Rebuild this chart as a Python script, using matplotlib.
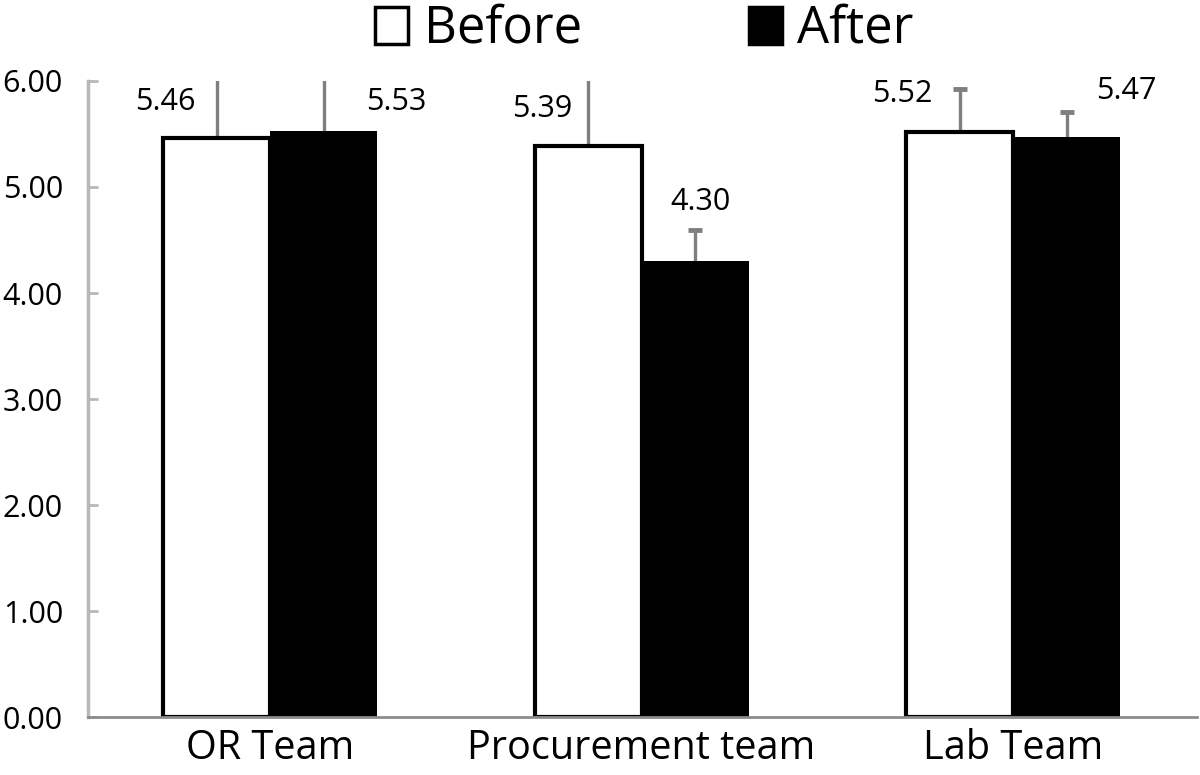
import numpy as np
import matplotlib.pyplot as plt
from matplotlib.patches import Patch

plt.rcParams['font.family'] = ['Open Sans', 'DejaVu Sans']

teams = ["OR Team", "Procurement team", "Lab Team"]
before = [5.46, 5.39, 5.52]
after = [5.53, 4.30, 5.47]
# upper error (SD); OR and procurement-before run off the top of the axis
before_err = [0.80, 0.90, 0.40]
after_err = [0.75, 0.29, 0.24]
y_ticks = [0, 1, 2, 3, 4, 5, 6]

# label offsets in pixels from the top-centre of each bar
before_label_offsets = [(-51, 36), (-46, 37), (-57, 38)]
after_label_offsets = [(73, 29), (5, 59), (60, 46)]

fig = plt.figure(figsize=(12, 7.75), dpi=100)
ax = fig.add_axes([0.0733, 0.0748, 0.9242, 0.8207])

x = np.arange(len(teams))
w = 0.288

ax.bar(x - w / 2, before, w, color="white", edgecolor="black", linewidth=3, zorder=2)
ax.bar(x + w / 2, after, w, color="black", edgecolor="black", linewidth=0, zorder=2)

# error bars: only the upper half, cap only at the top
for xs, vals, errs in [(x - w / 2, before, before_err), (x + w / 2, after, after_err)]:
    tops = np.array(vals) + np.array(errs)
    ax.vlines(xs, vals, tops, color="#7f7f7f", linewidth=2.4, zorder=1)
    ax.plot(xs, tops, linestyle="none", marker="_", markersize=10,
            markeredgewidth=3.5, color="#7f7f7f", zorder=1)

px = 0.72  # pixel -> point at 100 dpi
for i in range(len(teams)):
    dx, dy = before_label_offsets[i]
    ax.annotate(f"{before[i]:.2f}", (x[i] - w / 2, before[i]), xytext=(dx * px, dy * px),
                textcoords="offset points", ha="center", va="center", fontsize=22)
    dx, dy = after_label_offsets[i]
    ax.annotate(f"{after[i]:.2f}", (x[i] + w / 2, after[i]), xytext=(dx * px, dy * px),
                textcoords="offset points", ha="center", va="center", fontsize=22)

ax.set_xlim(-0.49, 2.495)
ax.set_ylim(0, 6)
ax.set_yticks(y_ticks)
ax.set_yticklabels([f"{v:.2f}" for v in y_ticks])
ax.set_xticks(x)
ax.set_xticklabels(teams)

ax.tick_params(axis="y", direction="in", length=7, width=2, color="#b8b8b8",
               labelsize=22, pad=18)
ax.tick_params(axis="x", length=0, labelsize=28.5, pad=8)

for side in ["top", "right"]:
    ax.spines[side].set_visible(False)
ax.spines["left"].set_color("#b8b8b8")
ax.spines["left"].set_linewidth(2.5)
ax.spines["bottom"].set_color("#8c8c8c")
ax.spines["bottom"].set_linewidth(2)

handles = [Patch(facecolor="white", edgecolor="black", linewidth=2.5, label="Before"),
           Patch(facecolor="black", edgecolor="black", linewidth=2.5, label="After")]
fig.legend(handles=handles, loc="center", bbox_to_anchor=(0.537, 0.962), ncol=2,
           frameon=False, fontsize=36.5, handlelength=0.65, handleheight=0.75,
           handletextpad=0.3, columnspacing=3.3)

fig.savefig("out.png", dpi=100)
